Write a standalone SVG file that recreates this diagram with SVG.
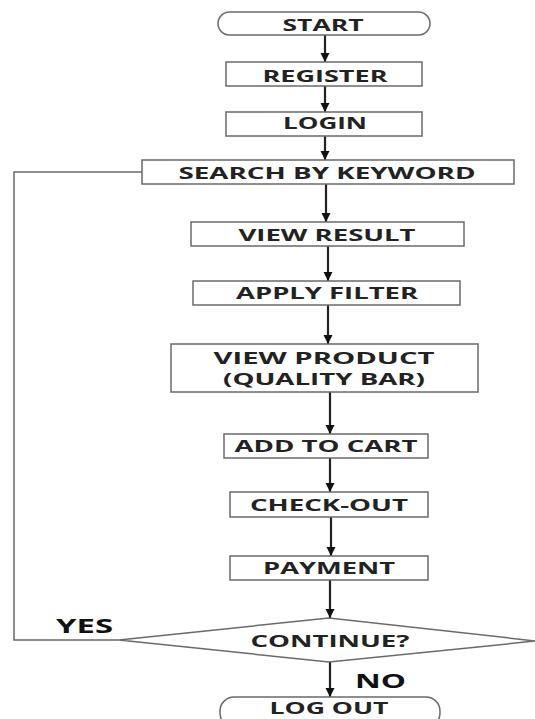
<svg xmlns="http://www.w3.org/2000/svg" width="535" height="719" viewBox="0 0 535 719">
<style>
.box{fill:#fff;stroke:#6a6a6a;stroke-width:1.5}
.t{font-family:"Open Sans","Liberation Sans",sans-serif;font-weight:bold;font-size:15.5px;fill:#222;text-anchor:middle}
.lbl{font-family:"Open Sans","Liberation Sans",sans-serif;font-weight:bold;font-size:19px;fill:#111}
.ar{stroke:#222;stroke-width:2.2;fill:none;marker-end:url(#ah)}
.ln{stroke:#6a6a6a;stroke-width:1.5;fill:none}
</style>
<defs>
<marker id="ah" markerUnits="userSpaceOnUse" viewBox="0 0 10 10" refX="10" refY="5" markerWidth="9" markerHeight="15" orient="auto">
<path d="M0,0 L10,5 L0,10 z" fill="#111"/>
</marker>
</defs>
<rect width="535" height="719" fill="#fff"/>
<g id="connectors">
<line class="ar" x1="325" y1="35" x2="325" y2="62"/>
<line class="ar" x1="325" y1="86" x2="325" y2="112"/>
<line class="ar" x1="325" y1="136" x2="325" y2="160"/>
<line class="ar" x1="326" y1="184" x2="326" y2="222"/>
<line class="ar" x1="328" y1="246" x2="328" y2="281"/>
<line class="ar" x1="328" y1="305" x2="328" y2="344"/>
<line class="ar" x1="330" y1="392" x2="330" y2="434"/>
<line class="ar" x1="330" y1="458" x2="330" y2="492"/>
<line class="ar" x1="331" y1="517" x2="331" y2="556"/>
<line class="ar" x1="330" y1="580" x2="330" y2="618"/>
<line class="ar" x1="330" y1="662" x2="330" y2="697"/>
<polyline class="ln" points="142,172 14,172 14,640 119,640"/>
</g>
<g id="start">
<rect class="box" x="218" y="12" width="212" height="23" rx="11.5"/>
<text class="t" x="323" y="31" textLength="81" lengthAdjust="spacingAndGlyphs">START</text>
</g>
<g id="register">
<rect class="box" x="226" y="62" width="196" height="24"/>
<text class="t" x="325" y="82" textLength="125" lengthAdjust="spacingAndGlyphs">REGISTER</text>
</g>
<g id="login">
<rect class="box" x="226" y="112" width="196" height="24"/>
<text class="t" x="325" y="129" textLength="84" lengthAdjust="spacingAndGlyphs">LOGIN</text>
</g>
<g id="search">
<rect class="box" x="142" y="160" width="372" height="24"/>
<text class="t" x="327" y="179" textLength="297" lengthAdjust="spacingAndGlyphs">SEARCH BY KEYWORD</text>
</g>
<g id="viewresult">
<rect class="box" x="191" y="222" width="273" height="24"/>
<text class="t" x="327" y="241" textLength="177" lengthAdjust="spacingAndGlyphs">VIEW RESULT</text>
</g>
<g id="applyfilter">
<rect class="box" x="193" y="281" width="267" height="24"/>
<text class="t" x="327" y="299" textLength="182" lengthAdjust="spacingAndGlyphs">APPLY  FILTER</text>
</g>
<g id="viewproduct">
<rect class="box" x="171" y="344" width="307" height="48"/>
<text class="t" x="324" y="364" textLength="221" lengthAdjust="spacingAndGlyphs">VIEW  PRODUCT</text>
<text class="t" x="324" y="385" textLength="202" lengthAdjust="spacingAndGlyphs">(QUALITY BAR)</text>
</g>
<g id="addtocart">
<rect class="box" x="224" y="434" width="204" height="24"/>
<text class="t" x="326" y="452" textLength="183" lengthAdjust="spacingAndGlyphs">ADD TO CART</text>
</g>
<g id="checkout">
<rect class="box" x="230" y="492" width="198" height="25"/>
<text class="t" x="329" y="511" textLength="158" lengthAdjust="spacingAndGlyphs">CHECK-OUT</text>
</g>
<g id="payment">
<rect class="box" x="230" y="556" width="198" height="24"/>
<text class="t" x="329" y="574" textLength="132" lengthAdjust="spacingAndGlyphs">PAYMENT</text>
</g>
<g id="continue">
<polygon class="box" points="119,640 329,618 536,641 329,662"/>
<text class="t" x="330" y="647" textLength="159" lengthAdjust="spacingAndGlyphs">CONTINUE?</text>
</g>
<g id="logout">
<rect class="box" x="220" y="697" width="220" height="30" rx="14"/>
<text class="t" x="329" y="713.5" font-size="14" textLength="119" lengthAdjust="spacingAndGlyphs">LOG OUT</text>
</g>
<text class="lbl" x="56" y="633" textLength="57" lengthAdjust="spacingAndGlyphs">YES</text>
<text class="lbl" x="355" y="688" textLength="51" lengthAdjust="spacingAndGlyphs">NO</text>
</svg>
